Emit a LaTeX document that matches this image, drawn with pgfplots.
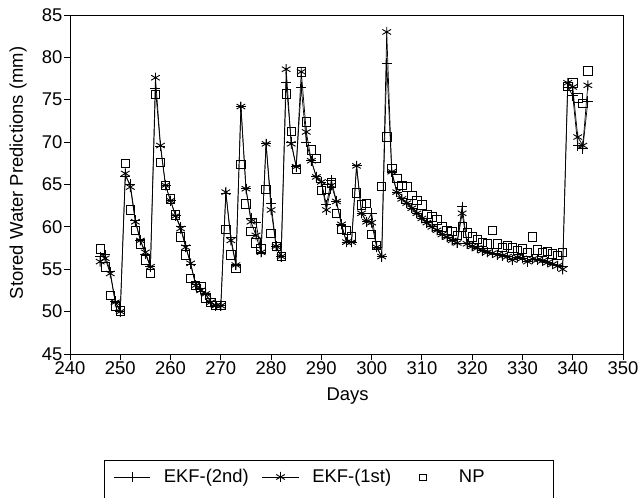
\documentclass[border=0pt]{standalone}
\usepackage{fontspec}
\setmainfont{Liberation Sans}
\usepackage{pgfplots}
\pgfplotsset{compat=1.18}
\begin{document}
\begin{tikzpicture}
\begin{axis}[
  at={(0,0)}, anchor=south west,
  width=553bp, height=339bp, scale only axis,
  xmin=240, xmax=350, ymin=45, ymax=85,
  xtick={240,250,...,350}, ytick={45,50,...,85},
  tick pos=left, tick align=outside, major tick length=6bp,
  axis line style={line width=0.9bp}, every tick/.style={line width=0.9bp,black},
  font=\fontsize{18.5}{22}\selectfont,
  /pgf/number format/assume math mode=true,
  /pgf/number format/1000 sep={},
  xticklabel style={yshift=2bp},
  yticklabel style={xshift=2bp},
  xlabel={Days}, ylabel={Stored Water Predictions (mm)},
  xlabel style={at={(axis description cs:0.502,-0.124)}, anchor=center},
  ylabel style={at={(axis description cs:-0.094,0.534)}, anchor=center},
  legend columns=-1,
  legend style={draw=none, fill=none, inner sep=0pt, at={(0.0778,-0.3628)}, anchor=west,
    font=\fontsize{18.5}{22}\selectfont,
    /tikz/every odd column/.append style={column sep=11bp},
    /tikz/every even column/.append style={column sep=11bp}},
  legend image code/.code={\draw[mark repeat=2,mark phase=2] plot coordinates {(0cm,0cm) (0.65cm,0cm) (1.3cm,0cm)};},
]
\addplot[only marks, mark=square, mark size=4.2bp, mark options={line width=0.8bp}, forget plot] coordinates {
(246,57.4)(247,55.3)(248,51.9)(249,50.6)(250,50.1)(251,67.5)(252,62.0)(253,59.6)(254,58.0)(255,56.1)
(256,54.5)(257,75.6)(258,67.6)(259,64.9)(260,63.3)(261,61.4)(262,58.8)(263,56.7)(264,53.9)(265,53.1)
(266,52.9)(267,51.6)(268,51.1)(269,50.7)(270,50.7)(271,59.7)(272,56.7)(273,55.1)(274,67.4)(275,62.7)
(276,59.5)(277,58.1)(278,57.4)(279,64.4)(280,59.2)(281,57.7)(282,56.5)(283,75.7)(284,71.3)(285,66.8)
(286,78.3)(287,72.4)(288,69.1)(289,68.1)(290,64.3)(291,64.5)(292,65.2)(293,61.6)(294,59.7)(295,59.6)
(296,58.8)(297,64.0)(298,62.6)(299,62.8)(300,59.1)(301,57.8)(302,64.8)(303,70.6)(304,66.9)(305,65.7)
(306,64.9)(307,64.7)(308,63.7)(309,63.1)(310,62.6)(311,61.5)(312,61.2)(313,60.8)(314,60.0)(315,59.6)
(316,59.5)(317,59.0)(318,60.0)(319,59.3)(320,58.8)(321,58.5)(322,58.2)(323,58.0)(324,59.6)(325,58.0)
(326,57.6)(327,57.8)(328,57.5)(329,57.2)(330,57.4)(331,57.0)(332,58.8)(333,57.3)(334,57.0)(335,57.1)
(336,56.8)(337,56.6)(338,57.0)(339,76.6)(340,77.0)(341,75.2)(342,74.6)(343,78.4)
};
\addplot[black, line width=0.7bp, mark=+, mark size=5bp, mark options={line width=0.9bp}] coordinates {
(246,56.5)(247,56.7)(248,54.7)(249,51.2)(250,50.0)(251,66.0)(252,65.0)(253,60.8)(254,58.4)(255,56.8)
(256,55.3)(257,76.3)(258,69.5)(259,64.9)(260,63.1)(261,61.3)(262,60.0)(263,57.8)(264,55.6)(265,53.2)
(266,52.7)(267,52.0)(268,51.2)(269,50.7)(270,50.7)(271,64.0)(272,58.8)(273,55.5)(274,74.2)(275,64.5)
(276,61.0)(277,60.5)(278,57.0)(279,69.8)(280,62.8)(281,57.7)(282,56.5)(283,77.1)(284,70.0)(285,67.1)
(286,76.5)(287,70.0)(288,67.8)(289,65.9)(290,65.3)(291,62.6)(292,65.5)(293,63.0)(294,60.3)(295,58.2)
(296,58.2)(297,67.2)(298,61.6)(299,60.6)(300,61.6)(301,57.6)(302,56.5)(303,79.3)(304,66.5)(305,64.1)
(306,63.3)(307,62.8)(308,62.2)(309,61.6)(310,61.0)(311,60.5)(312,60.0)(313,59.6)(314,59.1)(315,58.8)
(316,58.4)(317,58.1)(318,62.4)(319,58.0)(320,57.7)(321,57.5)(322,57.2)(323,57.0)(324,56.9)(325,56.7)
(326,56.6)(327,56.5)(328,56.1)(329,56.4)(330,56.3)(331,55.9)(332,56.2)(333,56.1)(334,56.0)(335,55.8)
(336,55.6)(337,55.4)(338,55.3)(339,76.5)(340,75.5)(341,69.6)(342,69.2)(343,74.8)
};
\addlegendentry{EKF-(2nd)}
\addplot[black, line width=0.7bp, mark=asterisk, mark size=5bp, mark options={line width=0.9bp}] coordinates {
(246,55.9)(247,56.3)(248,54.5)(249,51.1)(250,50.0)(251,66.3)(252,64.7)(253,60.6)(254,58.4)(255,57.0)
(256,55.3)(257,77.6)(258,69.6)(259,64.9)(260,63.1)(261,61.3)(262,59.8)(263,57.6)(264,55.7)(265,53.1)
(266,52.5)(267,52.1)(268,51.1)(269,50.7)(270,50.7)(271,64.1)(272,58.4)(273,55.5)(274,74.2)(275,64.5)
(276,60.6)(277,59.0)(278,57.0)(279,69.8)(280,62.0)(281,57.7)(282,56.5)(283,78.6)(284,69.8)(285,67.1)
(286,78.3)(287,71.2)(288,67.8)(289,65.9)(290,65.3)(291,62.0)(292,64.9)(293,63.0)(294,60.3)(295,58.2)
(296,58.2)(297,67.2)(298,61.6)(299,60.6)(300,60.5)(301,57.6)(302,56.5)(303,83.0)(304,66.5)(305,64.1)
(306,63.3)(307,62.8)(308,62.2)(309,61.6)(310,61.0)(311,60.5)(312,60.0)(313,59.6)(314,59.1)(315,58.8)
(316,58.4)(317,58.1)(318,61.6)(319,58.0)(320,57.7)(321,57.5)(322,57.2)(323,57.0)(324,56.9)(325,56.7)
(326,56.6)(327,56.5)(328,56.1)(329,56.4)(330,56.3)(331,55.9)(332,56.2)(333,56.1)(334,56.0)(335,55.8)
(336,55.6)(337,55.4)(338,55.0)(339,77.0)(340,76.5)(341,70.6)(342,69.6)(343,76.7)
};
\addlegendentry{EKF-(1st)}
\addlegendimage{legend image code/.code={\path[draw=none] (0cm,0cm) -- (1.3cm,0cm);
  \node[draw, line width=0.8bp, minimum width=7bp, minimum height=6bp, inner sep=0pt] at (0.65cm,0cm) {};}}
\addlegendentry{\hspace*{5bp}NP}
\end{axis}
\draw[line width=0.9bp] (34bp,-170bp) -- (34bp,-106bp) -- (483bp,-106bp) -- (483bp,-170bp);
\pgfresetboundingbox
\path (-70bp,-144bp) rectangle (572bp,354bp);
\end{tikzpicture}
\end{document}
